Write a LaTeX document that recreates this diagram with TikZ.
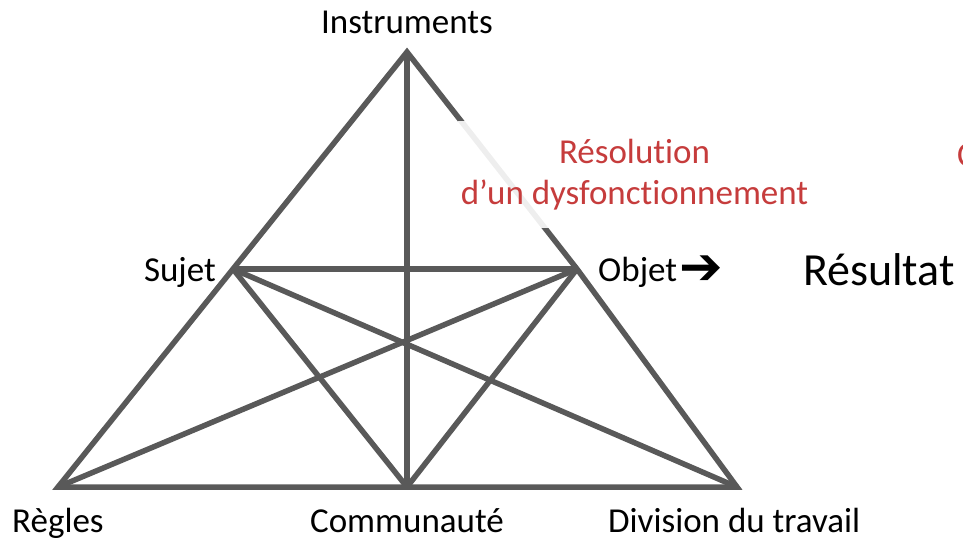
\documentclass[tikz,border=0pt]{standalone}
\usepackage{fontspec}
\setmainfont[Ligatures=NoCommon]{Carlito}
\newfontfamily\symfont{DejaVu Sans Bold}
\usetikzlibrary{positioning}
\definecolor{lineGray}{HTML}{595959}
\definecolor{resRed}{HTML}{C63C3C}
\tikzset{
  edge/.style={draw=lineGray, line width=5.5pt, line join=miter},
  lbl/.style={inner sep=0pt, font=\fontsize{35}{42}\selectfont, text=black},
  lblBig/.style={inner sep=0pt, font=\fontsize{46}{54}\selectfont, text=black},
  redBox/.style={inner sep=0pt, align=center, text=resRed,
                 font=\fontsize{35}{41}\selectfont, fill=white,
                 fill opacity=0.9, text opacity=1},
}

\begin{document}
\begin{tikzpicture}[x=1pt, y=-1pt]
    \useasboundingbox (0,0) rectangle (963,539);
    % sommets
    \coordinate (instr) at (407,52);
    \coordinate (sujet) at (233,269);
    \coordinate (objet) at (577,269);
    \coordinate (regles) at (58,487);
    \coordinate (commu) at (407,487);
    \coordinate (divis) at (737,487);
    % triangle et liaisons
    \draw[edge] (instr) -- (sujet) -- (regles) -- (commu) -- (divis) -- (objet) -- cycle;
    \draw[edge] (instr) -- (commu);
    \draw[edge] (sujet) -- (objet);
    \draw[edge] (sujet) -- (commu); \draw[edge] (sujet) -- (divis);
    \draw[edge] (objet) -- (regles); \draw[edge] (objet) -- (commu);
    % textes
    \node[redBox, minimum width=353pt, minimum height=107pt]
          (resol) at (634.5,174.5) {R\'esolution\\d’un dysfonctionnement};
    \node[lbl, anchor=base] (tInstr) at (407,33) {Instruments};
    \node[lbl, anchor=base east] (tSujet) at (216,281) {Sujet};
    \node[lbl, anchor=base west] (tObjet) at (598,281) {Objet};
    \node[inner sep=0pt, font=\symfont\fontsize{52}{56}\selectfont, anchor=west]
          (fleche) at (679,270) {➔};
    \node[lblBig, anchor=base west] (tResult) at (803,285) {R\'esultat};
    \node[lbl, anchor=base west, text=resRed] (tCoupe) at (957,166) {C};
    \node[lbl, anchor=base west] (tRegles) at (12,532) {R\`egles};
    \node[lbl, anchor=base] (tCommu) at (407,532) {Communaut\'e};
    \node[lbl, anchor=base west] (tDivis) at (608,532) {Division du travail};
\end{tikzpicture}
\end{document}
